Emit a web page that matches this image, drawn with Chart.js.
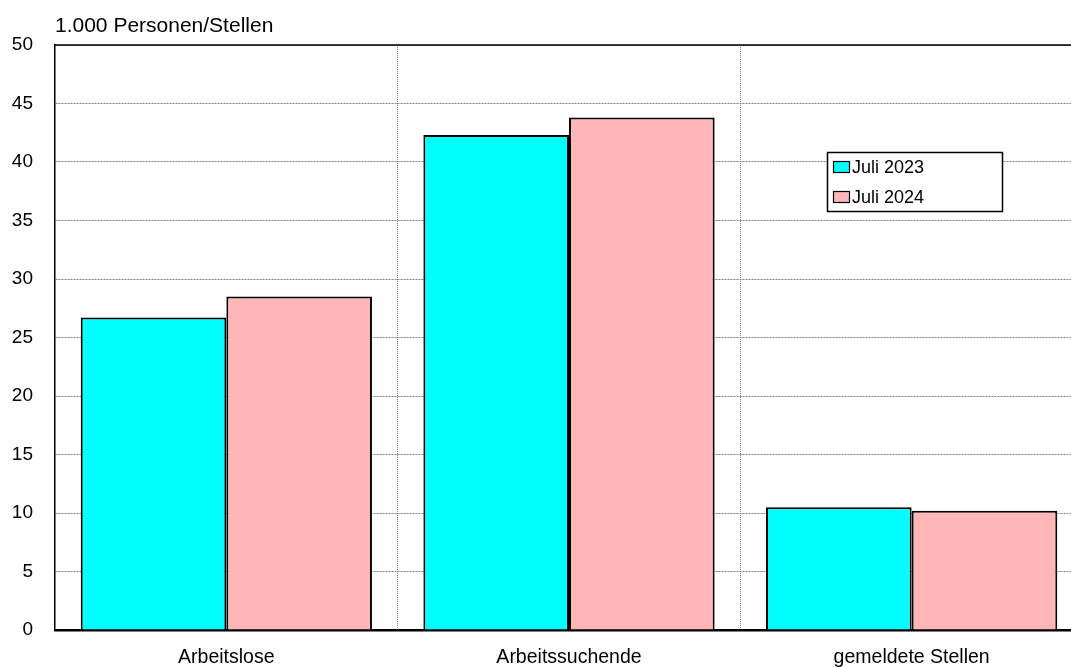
<!DOCTYPE html>
<html>
<head>
<meta charset="utf-8">
<script src="https://cdn.jsdelivr.net/npm/chart.js@4.4.1/dist/chart.umd.min.js"></script>
<style>
  html, body { margin: 0; padding: 0; overflow: hidden; background: #fff; }
  #wrap { width: 1100px; height: 667px; }
</style>
</head>
<body>
<div id="wrap"><canvas id="c" width="1100" height="667"></canvas></div>
<script>
// Categories and values (in 1.000)
const categories = ['Arbeitslose', 'Arbeitssuchende', 'gemeldete Stellen'];
const seriesLabels = ['Juli 2023', 'Juli 2024'];
const values2023 = [26.7, 42.3, 10.5];
const values2024 = [28.5, 43.8, 10.2];
const yTicks = [0, 5, 10, 15, 20, 25, 30, 35, 40, 45, 50];
const unitLabel = '1.000 Personen/Stellen';

const FONT = "'Liberation Sans', Arial, sans-serif";

// Unit label, top frame line and boxed legend
const decor = {
  id: 'decor',
  afterDraw(chart) {
    const ctx = chart.ctx;
    const a = chart.chartArea;
    ctx.save();
    // frame top
    ctx.strokeStyle = '#000';
    ctx.lineWidth = 1.5;
    ctx.beginPath();
    ctx.moveTo(a.left, a.top);
    ctx.lineTo(a.right, a.top);
    ctx.stroke();
    // unit label
    ctx.fillStyle = '#000';
    ctx.font = '21px ' + FONT;
    ctx.textAlign = 'left';
    ctx.textBaseline = 'middle';
    ctx.fillText(unitLabel, 55, 26);
    // legend
    const lx = 827, ly = 152, lw = 175, lh = 59;
    ctx.fillStyle = '#fff';
    ctx.fillRect(lx, ly, lw, lh);
    ctx.lineWidth = 1.5;
    ctx.strokeStyle = '#000';
    ctx.strokeRect(lx + 0.5, ly + 0.5, lw, lh);
    ctx.font = '18px ' + FONT;
    chart.data.datasets.forEach((ds, i) => {
      const cy = ly + 15 + i * 30;
      ctx.fillStyle = ds.backgroundColor;
      ctx.fillRect(833, cy - 6, 17, 12);
      ctx.lineWidth = 1.2;
      ctx.strokeStyle = '#000';
      ctx.strokeRect(833.5, cy - 5.5, 16, 11);
      ctx.fillStyle = '#000';
      ctx.fillText(ds.label, 852, cy + 1);
    });
    ctx.restore();
  }
};

new Chart(document.getElementById('c'), {
  type: 'bar',
  data: {
    labels: categories,
    datasets: [
      { label: seriesLabels[0], data: values2023, backgroundColor: '#00ffff', borderColor: '#000', borderWidth: 2 },
      { label: seriesLabels[1], data: values2024, backgroundColor: '#ffb6b6', borderColor: '#000', borderWidth: 2 }
    ]
  },
  options: {
    responsive: false,
    animation: false,
    layout: { padding: { top: 45, right: 17, left: 0, bottom: 0 } },
    datasets: { bar: { categoryPercentage: 0.85, barPercentage: 1.0 } },
    plugins: { legend: { display: false }, tooltip: { enabled: false } },
    scales: {
      x: {
        afterFit(s) { s.height = 37; },
        grid: { offset: true, color: '#808080', lineWidth: 1, drawTicks: false },
        border: { display: true, color: '#000', width: 2.5, dash: [1, 1] },
        ticks: { color: '#000', font: { family: FONT, size: 19.5 }, padding: 16 }
      },
      y: {
        min: 0, max: 50,
        afterFit(s) { s.width = 55; },
        afterBuildTicks(s) { s.ticks = yTicks.map(v => ({ value: v })); },
        grid: { color: '#808080', lineWidth: 1, drawTicks: false },
        border: { display: true, color: '#000', width: 1.5, dash: [2, 1] },
        ticks: { color: '#000', font: { family: FONT, size: 19 }, padding: 22 }
      }
    }
  },
  plugins: [decor]
});
</script>
</body>
</html>
